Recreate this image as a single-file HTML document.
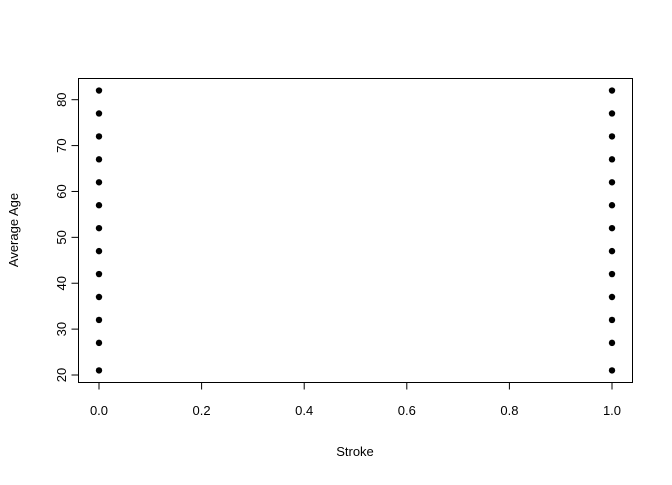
<!DOCTYPE html>
<html><head><meta charset="utf-8"><style>body{margin:0;background:#fff}text{font-family:"Liberation Sans",Arial,sans-serif;font-size:13px;fill:#000}</style></head>
<body>
<svg id="c" width="672" height="480"></svg>
<script>
const strokeVals=[0,1];
const ages=[21,27,32,37,42,47,52,57,62,67,72,77,82];
const xTicks=[0,0.2,0.4,0.6,0.8,1.0];
const xTickLabels=["0.0","0.2","0.4","0.6","0.8","1.0"];
const yTicks=[20,30,40,50,60,70,80];
const svg=document.getElementById('c');
const NS='http://www.w3.org/2000/svg';
const X=v=>99+v*513;
const Y=v=>375-(v-20)*(275.3/60);
function mk(t,a,p){const e=document.createElementNS(NS,t);for(const k in a)e.setAttribute(k,a[k]);(p||svg).appendChild(e);return e;}
const box=mk('rect',{x:78.5,y:78.5,width:554,height:304,fill:'none',stroke:'#000'});


const xa=mk('g',{});


mk('line',{x1:X(0),x2:X(1),y1:382.5,y2:382.5,stroke:'#000'},xa);
xTicks.forEach((t,i)=>{mk('line',{x1:X(t),x2:X(t),y1:382.5,y2:389.5,stroke:'#000'},xa);const tx=mk('text',{x:X(t),y:415,'text-anchor':'middle'},xa);tx.textContent=xTickLabels[i];});
const ya=mk('g',{});


mk('line',{x1:78.5,x2:78.5,y1:Y(20),y2:Y(80),stroke:'#000'},ya);
yTicks.forEach(t=>{mk('line',{x1:71.5,x2:78.5,y1:Y(t),y2:Y(t),stroke:'#000'},ya);const tx=mk('text',{x:0,y:0,'text-anchor':'middle',transform:`translate(66,${Y(t)}) rotate(-90)`},ya);tx.textContent=t;});
const xl=mk('text',{x:355,y:456,'text-anchor':'middle'});xl.textContent='Stroke';


const yl=mk('text',{x:0,y:0,'text-anchor':'middle',transform:'translate(18,230) rotate(-90)'});yl.textContent='Average Age';


const pts=mk('g',{});


strokeVals.forEach(s=>ages.forEach(a=>{const c=mk('circle',{cx:X(s),cy:Y(a),r:3.2,fill:'#000'},pts);

}));
</script>
</body></html>
